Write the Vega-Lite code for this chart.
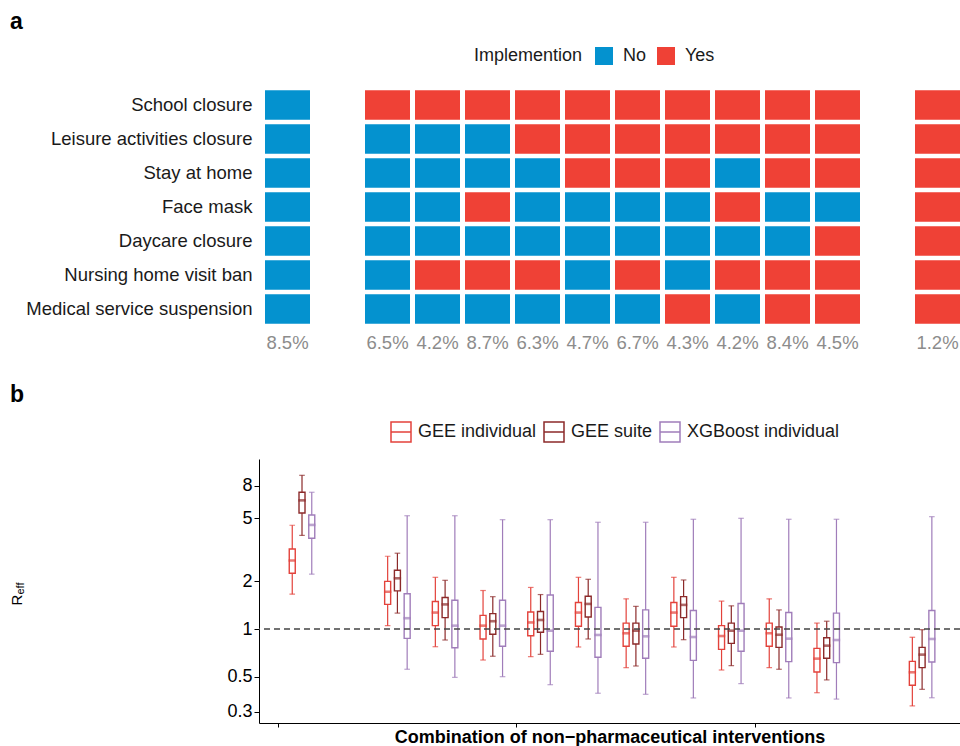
{
  "$schema": "https://vega.github.io/schema/vega-lite/v6.json",
  "padding": {"left": 8, "top": 10, "right": 0, "bottom": 0},
  "config": {
    "font": "Liberation Sans",
    "view": {"stroke": null},
    "axis": {"labelFont": "Liberation Sans", "titleFont": "Liberation Sans", "grid": false},
    "legend": {"labelFont": "Liberation Sans", "titleFont": "Liberation Sans"},
    "title": {"font": "Liberation Sans"}
  },
  "resolve": {"scale": {"color": "independent"}, "legend": {"color": "independent"}},
  "spacing": 24,
  "vconcat": [
    {
      "width": 701,
      "height": 272,
      "title": {"text": "a", "anchor": "start", "frame": "group", "dx": -249, "fontSize": 23, "fontWeight": "bold", "color": "black", "offset": 13.5},
      "layer": [
        {
          "data": {"values": [
            {"c": "1", "n": "School closure", "v": "No"},
            {"c": "1", "n": "Leisure activities closure", "v": "No"},
            {"c": "1", "n": "Stay at home", "v": "No"},
            {"c": "1", "n": "Face mask", "v": "No"},
            {"c": "1", "n": "Daycare closure", "v": "No"},
            {"c": "1", "n": "Nursing home visit ban", "v": "No"},
            {"c": "1", "n": "Medical service suspension", "v": "No"},
            {"c": "2", "n": "School closure", "v": "Yes"},
            {"c": "2", "n": "Leisure activities closure", "v": "No"},
            {"c": "2", "n": "Stay at home", "v": "No"},
            {"c": "2", "n": "Face mask", "v": "No"},
            {"c": "2", "n": "Daycare closure", "v": "No"},
            {"c": "2", "n": "Nursing home visit ban", "v": "No"},
            {"c": "2", "n": "Medical service suspension", "v": "No"},
            {"c": "3", "n": "School closure", "v": "Yes"},
            {"c": "3", "n": "Leisure activities closure", "v": "No"},
            {"c": "3", "n": "Stay at home", "v": "No"},
            {"c": "3", "n": "Face mask", "v": "No"},
            {"c": "3", "n": "Daycare closure", "v": "No"},
            {"c": "3", "n": "Nursing home visit ban", "v": "Yes"},
            {"c": "3", "n": "Medical service suspension", "v": "No"},
            {"c": "4", "n": "School closure", "v": "Yes"},
            {"c": "4", "n": "Leisure activities closure", "v": "No"},
            {"c": "4", "n": "Stay at home", "v": "No"},
            {"c": "4", "n": "Face mask", "v": "Yes"},
            {"c": "4", "n": "Daycare closure", "v": "No"},
            {"c": "4", "n": "Nursing home visit ban", "v": "Yes"},
            {"c": "4", "n": "Medical service suspension", "v": "No"},
            {"c": "5", "n": "School closure", "v": "Yes"},
            {"c": "5", "n": "Leisure activities closure", "v": "Yes"},
            {"c": "5", "n": "Stay at home", "v": "No"},
            {"c": "5", "n": "Face mask", "v": "No"},
            {"c": "5", "n": "Daycare closure", "v": "No"},
            {"c": "5", "n": "Nursing home visit ban", "v": "Yes"},
            {"c": "5", "n": "Medical service suspension", "v": "No"},
            {"c": "6", "n": "School closure", "v": "Yes"},
            {"c": "6", "n": "Leisure activities closure", "v": "Yes"},
            {"c": "6", "n": "Stay at home", "v": "Yes"},
            {"c": "6", "n": "Face mask", "v": "No"},
            {"c": "6", "n": "Daycare closure", "v": "No"},
            {"c": "6", "n": "Nursing home visit ban", "v": "No"},
            {"c": "6", "n": "Medical service suspension", "v": "No"},
            {"c": "7", "n": "School closure", "v": "Yes"},
            {"c": "7", "n": "Leisure activities closure", "v": "Yes"},
            {"c": "7", "n": "Stay at home", "v": "Yes"},
            {"c": "7", "n": "Face mask", "v": "No"},
            {"c": "7", "n": "Daycare closure", "v": "No"},
            {"c": "7", "n": "Nursing home visit ban", "v": "Yes"},
            {"c": "7", "n": "Medical service suspension", "v": "No"},
            {"c": "8", "n": "School closure", "v": "Yes"},
            {"c": "8", "n": "Leisure activities closure", "v": "Yes"},
            {"c": "8", "n": "Stay at home", "v": "Yes"},
            {"c": "8", "n": "Face mask", "v": "No"},
            {"c": "8", "n": "Daycare closure", "v": "No"},
            {"c": "8", "n": "Nursing home visit ban", "v": "No"},
            {"c": "8", "n": "Medical service suspension", "v": "Yes"},
            {"c": "9", "n": "School closure", "v": "Yes"},
            {"c": "9", "n": "Leisure activities closure", "v": "Yes"},
            {"c": "9", "n": "Stay at home", "v": "No"},
            {"c": "9", "n": "Face mask", "v": "Yes"},
            {"c": "9", "n": "Daycare closure", "v": "No"},
            {"c": "9", "n": "Nursing home visit ban", "v": "Yes"},
            {"c": "9", "n": "Medical service suspension", "v": "No"},
            {"c": "10", "n": "School closure", "v": "Yes"},
            {"c": "10", "n": "Leisure activities closure", "v": "Yes"},
            {"c": "10", "n": "Stay at home", "v": "Yes"},
            {"c": "10", "n": "Face mask", "v": "No"},
            {"c": "10", "n": "Daycare closure", "v": "No"},
            {"c": "10", "n": "Nursing home visit ban", "v": "Yes"},
            {"c": "10", "n": "Medical service suspension", "v": "Yes"},
            {"c": "11", "n": "School closure", "v": "Yes"},
            {"c": "11", "n": "Leisure activities closure", "v": "Yes"},
            {"c": "11", "n": "Stay at home", "v": "Yes"},
            {"c": "11", "n": "Face mask", "v": "No"},
            {"c": "11", "n": "Daycare closure", "v": "Yes"},
            {"c": "11", "n": "Nursing home visit ban", "v": "Yes"},
            {"c": "11", "n": "Medical service suspension", "v": "Yes"},
            {"c": "12", "n": "School closure", "v": "Yes"},
            {"c": "12", "n": "Leisure activities closure", "v": "Yes"},
            {"c": "12", "n": "Stay at home", "v": "Yes"},
            {"c": "12", "n": "Face mask", "v": "Yes"},
            {"c": "12", "n": "Daycare closure", "v": "Yes"},
            {"c": "12", "n": "Nursing home visit ban", "v": "Yes"},
            {"c": "12", "n": "Medical service suspension", "v": "Yes"}
          ]},
          "mark": {"type": "rect"},
          "encoding": {
            "x": {"field": "c", "type": "nominal",
                  "scale": {"domain": ["1", "g1", "2", "3", "4", "5", "6", "7", "8", "9", "10", "11", "g2", "12"], "paddingInner": 0.1, "paddingOuter": 0.06, "align": 1},
                  "axis": null},
            "y": {"field": "n", "type": "nominal",
                  "scale": {"domain": ["School closure", "Leisure activities closure", "Stay at home", "Face mask", "Daycare closure", "Nursing home visit ban", "Medical service suspension", "pct"], "paddingInner": 0.127, "paddingOuter": 0.0635},
                  "axis": {"title": null, "domain": false, "ticks": false, "tickSize": 0, "labelPadding": 7, "labelLimit": 400, "labelFontSize": 18.5, "labelColor": "#1a1a1a", "labelExpr": "datum.value == 'pct' ? '' : datum.value"}},
            "color": {"field": "v", "type": "nominal",
                      "scale": {"domain": ["No", "Yes"], "range": ["#0492CF", "#EF4136"]},
                      "legend": {"title": "Implemention", "orient": "none", "legendX": 215, "legendY": -41, "direction": "horizontal", "titleOrient": "left", "titleFontSize": 18, "titleFontWeight": "normal", "titleColor": "#1a1a1a", "labelFontSize": 18, "labelColor": "#1a1a1a", "symbolType": "square", "symbolSize": 324, "symbolStrokeWidth": 0, "symbolOpacity": 1, "labelOffset": 10, "columnPadding": 10, "titlePadding": 12, "padding": 0}}
          }
        },
        {
          "data": {"values": [
            {"c": "1", "p": "8.5%"}, {"c": "2", "p": "6.5%"}, {"c": "3", "p": "4.2%"}, {"c": "4", "p": "8.7%"},
            {"c": "5", "p": "6.3%"}, {"c": "6", "p": "4.7%"}, {"c": "7", "p": "6.7%"}, {"c": "8", "p": "4.3%"},
            {"c": "9", "p": "4.2%"}, {"c": "10", "p": "8.4%"}, {"c": "11", "p": "4.5%"}, {"c": "12", "p": "1.2%"}
          ]},
          "mark": {"type": "text", "fontSize": 18.5, "color": "#8c8c8c"},
          "encoding": {
            "x": {"field": "c", "type": "nominal"},
            "y": {"datum": "pct", "type": "nominal"},
            "text": {"field": "p", "type": "nominal"}
          }
        }
      ]
    },
    {
      "width": 701,
      "height": 264,
      "title": {"text": "b", "anchor": "start", "frame": "group", "dx": -249, "fontSize": 23, "fontWeight": "bold", "color": "black", "offset": 14},
      "resolve": {"axis": {"y": "independent"}},
      "layer": [
        {
          "data": {"values": [
            {"c": "1", "m": "GEE individual", "lo": 1.66, "q1": 2.25, "md": 2.71, "q3": 3.2, "hi": 4.52},
            {"c": "1", "m": "GEE suite", "lo": 3.9, "q1": 5.4, "md": 6.49, "q3": 7.3, "hi": 9.34},
            {"c": "1", "m": "XGBoost individual", "lo": 2.22, "q1": 3.74, "md": 4.54, "q3": 5.24, "hi": 7.3},
            {"c": "2", "m": "GEE individual", "lo": 1.05, "q1": 1.43, "md": 1.72, "q3": 2.0, "hi": 2.88},
            {"c": "2", "m": "GEE suite", "lo": 1.26, "q1": 1.74, "md": 2.09, "q3": 2.35, "hi": 3.01},
            {"c": "2", "m": "XGBoost individual", "lo": 0.557, "q1": 0.873, "md": 1.17, "q3": 1.67, "hi": 5.19},
            {"c": "3", "m": "GEE individual", "lo": 0.773, "q1": 1.05, "md": 1.27, "q3": 1.49, "hi": 2.12},
            {"c": "3", "m": "GEE suite", "lo": 0.852, "q1": 1.18, "md": 1.43, "q3": 1.58, "hi": 2.03},
            {"c": "3", "m": "XGBoost individual", "lo": 0.495, "q1": 0.762, "md": 1.05, "q3": 1.52, "hi": 5.19},
            {"c": "4", "m": "GEE individual", "lo": 0.637, "q1": 0.865, "md": 1.05, "q3": 1.22, "hi": 1.75},
            {"c": "4", "m": "GEE suite", "lo": 0.673, "q1": 0.926, "md": 1.12, "q3": 1.25, "hi": 1.6},
            {"c": "4", "m": "XGBoost individual", "lo": 0.5, "q1": 0.778, "md": 1.05, "q3": 1.52, "hi": 4.9},
            {"c": "5", "m": "GEE individual", "lo": 0.669, "q1": 0.907, "md": 1.1, "q3": 1.28, "hi": 1.83},
            {"c": "5", "m": "GEE suite", "lo": 0.692, "q1": 0.953, "md": 1.14, "q3": 1.29, "hi": 1.65},
            {"c": "5", "m": "XGBoost individual", "lo": 0.445, "q1": 0.723, "md": 0.976, "q3": 1.64, "hi": 4.9},
            {"c": "6", "m": "GEE individual", "lo": 0.77, "q1": 1.04, "md": 1.27, "q3": 1.47, "hi": 2.12},
            {"c": "6", "m": "GEE suite", "lo": 0.865, "q1": 1.19, "md": 1.44, "q3": 1.61, "hi": 2.06},
            {"c": "6", "m": "XGBoost individual", "lo": 0.393, "q1": 0.663, "md": 0.917, "q3": 1.37, "hi": 4.72},
            {"c": "7", "m": "GEE individual", "lo": 0.57, "q1": 0.778, "md": 0.94, "q3": 1.09, "hi": 1.55},
            {"c": "7", "m": "GEE suite", "lo": 0.584, "q1": 0.804, "md": 0.976, "q3": 1.09, "hi": 1.39},
            {"c": "7", "m": "XGBoost individual", "lo": 0.387, "q1": 0.653, "md": 0.899, "q3": 1.32, "hi": 4.72},
            {"c": "8", "m": "GEE individual", "lo": 0.77, "q1": 1.04, "md": 1.27, "q3": 1.47, "hi": 2.12},
            {"c": "8", "m": "GEE suite", "lo": 0.856, "q1": 1.18, "md": 1.42, "q3": 1.6, "hi": 2.04},
            {"c": "8", "m": "XGBoost individual", "lo": 0.367, "q1": 0.634, "md": 0.89, "q3": 1.31, "hi": 4.93},
            {"c": "9", "m": "GEE individual", "lo": 0.551, "q1": 0.744, "md": 0.903, "q3": 1.05, "hi": 1.5},
            {"c": "9", "m": "GEE suite", "lo": 0.587, "q1": 0.812, "md": 0.976, "q3": 1.09, "hi": 1.4},
            {"c": "9", "m": "XGBoost individual", "lo": 0.452, "q1": 0.723, "md": 0.976, "q3": 1.45, "hi": 5.0},
            {"c": "10", "m": "GEE individual", "lo": 0.57, "q1": 0.778, "md": 0.94, "q3": 1.09, "hi": 1.55},
            {"c": "10", "m": "GEE suite", "lo": 0.557, "q1": 0.766, "md": 0.92, "q3": 1.03, "hi": 1.32},
            {"c": "10", "m": "XGBoost individual", "lo": 0.367, "q1": 0.622, "md": 0.869, "q3": 1.27, "hi": 4.93},
            {"c": "11", "m": "GEE individual", "lo": 0.396, "q1": 0.535, "md": 0.65, "q3": 0.755, "hi": 1.09},
            {"c": "11", "m": "GEE suite", "lo": 0.477, "q1": 0.653, "md": 0.785, "q3": 0.881, "hi": 1.12},
            {"c": "11", "m": "XGBoost individual", "lo": 0.361, "q1": 0.613, "md": 0.852, "q3": 1.26, "hi": 4.93},
            {"c": "12", "m": "GEE individual", "lo": 0.327, "q1": 0.441, "md": 0.533, "q3": 0.625, "hi": 0.887},
            {"c": "12", "m": "GEE suite", "lo": 0.416, "q1": 0.57, "md": 0.689, "q3": 0.766, "hi": 0.99},
            {"c": "12", "m": "XGBoost individual", "lo": 0.368, "q1": 0.619, "md": 0.865, "q3": 1.31, "hi": 5.12}
          ]},
          "encoding": {
            "x": {"field": "c", "type": "nominal",
                  "scale": {"domain": ["1", "g1", "2", "3", "4", "5", "6", "7", "8", "9", "10", "11", "g2", "12"], "paddingInner": 0, "paddingOuter": 0.348, "align": 0.577},
                  "axis": {"values": ["1", "5", "10"], "bandPosition": 0, "labels": false, "ticks": true, "tickSize": 4, "tickColor": "black", "domain": true, "domainColor": "black", "title": "Combination of non−pharmaceutical interventions", "titleFontSize": 18, "titleFontWeight": "bold", "titleColor": "black", "titlePadding": 1}},
            "xOffset": {"field": "m", "type": "nominal", "scale": {"domain": ["GEE individual", "GEE suite", "XGBoost individual"], "paddingInner": 0, "paddingOuter": 0.945}},
            "color": {"field": "m", "type": "nominal",
                      "scale": {"domain": ["GEE individual", "GEE suite", "XGBoost individual"], "range": ["#E3423B", "#8C2A2A", "#A07DBA"]},
                      "legend": {"title": null, "orient": "none", "legendX": 131, "legendY": -38, "direction": "horizontal", "symbolType": "M-1,-1H1V1H-1ZM-1,0H1", "symbolSize": 400, "symbolStrokeWidth": 1.5, "symbolFillColor": "white", "labelFontSize": 18, "labelColor": "#1a1a1a", "labelOffset": 6, "columnPadding": 4, "padding": 0}}
          },
          "layer": [
            {"mark": {"type": "rule", "strokeWidth": 1.2},
             "encoding": {"y": {"field": "lo", "type": "quantitative",
                                "scale": {"type": "log", "domain": [0.255, 11.84], "nice": false},
                                "axis": {"values": [0.3, 0.5, 1, 2, 5, 8], "format": "~g", "title": "R", "titleAngle": -90, "titleX": -238, "titleY": 146, "titleAlign": "left", "titleBaseline": "alphabetic", "titleFontSize": 15, "titleFontWeight": "normal", "titleColor": "black", "labelFontSize": 18, "labelColor": "black", "tickSize": 5, "tickColor": "black", "domainColor": "black", "labelPadding": 2}},
                          "y2": {"field": "q1"}}},
            {"mark": {"type": "rule", "strokeWidth": 1.2},
             "encoding": {"y": {"field": "q3", "type": "quantitative"}, "y2": {"field": "hi"}}},
            {"mark": {"type": "bar", "filled": false, "size": 6, "strokeWidth": 1.4},
             "encoding": {"y": {"field": "q1", "type": "quantitative"}, "y2": {"field": "q3"}}},
            {"mark": {"type": "tick", "filled": false, "size": 5, "thickness": 0.2, "strokeWidth": 2.4},
             "encoding": {"y": {"field": "md", "type": "quantitative"}}},
            {"mark": {"type": "tick", "filled": false, "size": 4.5, "thickness": 0.1, "strokeWidth": 1.1},
             "encoding": {"y": {"field": "lo", "type": "quantitative"}}},
            {"mark": {"type": "tick", "filled": false, "size": 4.5, "thickness": 0.1, "strokeWidth": 1.1},
             "encoding": {"y": {"field": "hi", "type": "quantitative"}}}
          ]
        },
        {
          "data": {"values": [{"ref": 1}]},
          "mark": {"type": "rule", "strokeDash": [6, 4], "color": "#444444", "strokeWidth": 1.5},
          "encoding": {
            "y": {"field": "ref", "type": "quantitative",
                  "axis": {"orient": "right", "domain": false, "ticks": false, "labels": false, "title": "eff", "titleAngle": -90, "titleX": -937, "titleY": 135, "titleAlign": "left", "titleBaseline": "alphabetic", "titleFontSize": 11, "titleFontWeight": "normal", "titleColor": "black"}}
          }
        }
      ]
    }
  ]
}
